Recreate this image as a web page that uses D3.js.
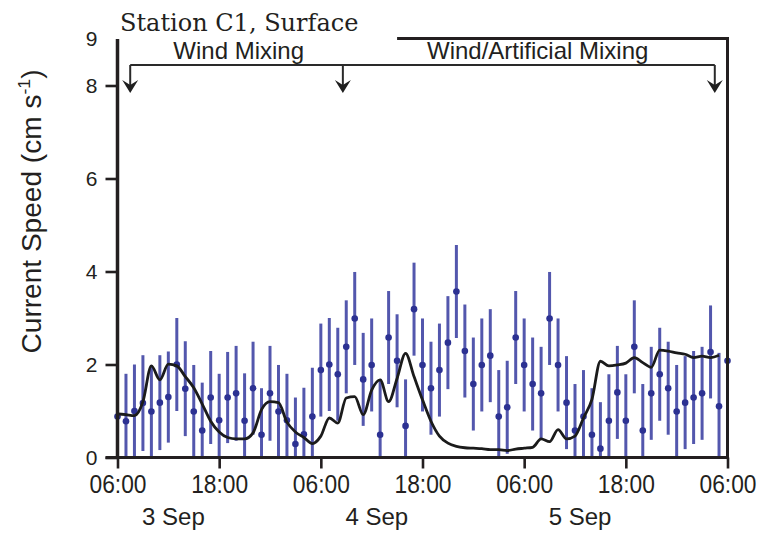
<!DOCTYPE html>
<html>
<head>
<meta charset="utf-8">
<script src="https://cdn.jsdelivr.net/npm/d3@7"></script>
<style>
  body { margin: 0; background: #fff; }
  text { fill: #231f20; }
</style>
</head>
<body>
<svg id="chart" width="765" height="533"></svg>
<script>
/* DATA: hourly current speed at Station C1, surface, 06:00 3 Sep -> 06:00 6 Sep */

// hourly means (cm/s), one per hour
const speedMean = [
  0.88, 0.78, 1.00, 1.17, 0.99, 1.18, 1.30, 2.00, 1.48, 0.99,
  0.58, 1.29, 0.80, 1.29, 1.38, 0.79, 1.49, 0.49, 1.38, 0.99,
  0.80, 0.29, 0.50, 0.88, 1.88, 2.00, 1.79, 2.38, 2.99, 1.68,
  1.99, 0.49, 2.58, 2.08, 0.68, 3.19, 1.99, 1.49, 1.88, 2.47,
  3.57, 2.29, 1.58, 1.99, 2.19, 0.88, 1.08, 2.58, 1.99, 1.58,
  1.38, 2.99, 1.99, 1.18, 0.58, 0.88, 0.49, 0.19, 0.79, 1.40,
  0.79, 2.38, 0.58, 1.38, 1.79, 1.49, 0.99, 1.18, 1.29, 1.38,
  2.27, 1.10, 2.08
];

// +/- spread of each hourly mean
const speedSpread = [
  1.00, 1.02, 1.00, 1.03, 1.00, 1.02, 0.98, 1.00, 1.02, 1.00,
  1.03, 1.00, 1.00, 0.98, 1.02, 1.02, 1.00, 1.00, 1.02, 1.00,
  1.00, 1.00, 1.00, 1.05, 1.00, 1.00, 1.00, 1.00, 1.00, 1.00,
  1.00, 1.20, 1.00, 1.00, 1.00, 1.00, 1.00, 1.00, 1.00, 1.00,
  1.00, 1.00, 1.00, 1.00, 1.00, 1.00, 1.00, 1.00, 1.00, 1.00,
  1.00, 1.00, 1.00, 1.00, 1.00, 1.00, 1.00, 1.00, 1.00, 1.00,
  1.00, 1.00, 1.00, 1.00, 1.00, 1.00, 1.00, 1.00, 1.00, 1.00,
  1.00, 1.15, 1.00
];

// smoothed speed (black line)
const speedSmooth = [
  0.94, 0.92, 0.90, 1.20, 1.97, 1.67, 2.01, 1.97, 1.74, 1.50,
  1.15, 0.78, 0.55, 0.43, 0.40, 0.40, 0.53, 1.03, 1.20, 1.18,
  0.76, 0.55, 0.43, 0.30, 0.46, 0.85, 0.74, 1.28, 1.31, 0.92,
  1.45, 1.67, 1.20, 1.70, 2.24, 1.74, 1.24, 0.78, 0.46, 0.31,
  0.24, 0.21, 0.20, 0.19, 0.17, 0.17, 0.15, 0.18, 0.20, 0.22,
  0.40, 0.34, 0.60, 0.40, 0.46, 0.85, 1.25, 2.07, 1.97, 1.99,
  2.03, 2.15, 2.04, 1.94, 2.31, 2.29, 2.25, 2.22, 2.15, 2.18,
  2.15, 2.20
];

const timeTicks = [0, 12, 24, 36, 48, 60, 72];   // hours after 06:00 3 Sep
const timeTickLabels = ["06:00", "18:00", "06:00", "18:00", "06:00", "18:00", "06:00"];
const dayLabels = ["3 Sep", "4 Sep", "5 Sep"];
const dayLabelHours = [6.6, 30.6, 54.6];
const speedTicks = [0, 2, 4, 6, 8, 9];

// mixing periods annotation (hours)
const phaseLabels = ["Wind Mixing", "Wind/Artificial Mixing"];
const phaseLabelHours = [14.3, 49.6];
const arrowHours = [1.5, 26.6, 70.5];
const artificialStart = 33;

/* LAYOUT */
const svg = d3.select("#chart");
const sans = "'Liberation Sans', Arial, sans-serif";
const ink = "#231f20";

const x = d3.scaleLinear().domain([0, 72]).range([117.5, 727.5]);
const y = d3.scaleLinear().domain([0, 9]).range([457.5, 39]);

/* ERROR BARS */
const bars = svg.append("g").attr("id", "bars");

bars.selectAll("line")
  .data(speedMean)
  .join("line")
    .attr("x1", (d, i) => x(i))
    .attr("x2", (d, i) => x(i))
    .attr("y1", (d, i) => y(Math.max(0, d - speedSpread[i])))
    .attr("y2", (d, i) => y(d + speedSpread[i]))
    .attr("stroke", "#3b40a2")
    .attr("stroke-width", 3)
    .attr("stroke-opacity", 0.88);

bars.selectAll("circle")
  .data(speedMean)
  .join("circle")
    .attr("cx", (d, i) => x(i))
    .attr("cy", d => y(d))
    .attr("r", 3.3)
    .attr("fill", "#2c3192");

/* SMOOTHED LINE */
const line = d3.line()
  .x((d, i) => x(i))
  .y(d => y(d))
  .curve(d3.curveMonotoneX);

svg.append("path")
  .datum(speedSmooth)
  .attr("d", line)
  .attr("fill", "none")
  .attr("stroke", "#1b1b1b")
  .attr("stroke-width", 2.8)
  .attr("stroke-linejoin", "round");

/* AXES */
const yAxis = d3.axisLeft(y).tickValues(speedTicks).tickSize(12).tickPadding(8);
const yGroup = svg.append("g").attr("transform", "translate(" + x(0) + ",0)").call(yAxis);
yGroup.select(".domain").remove();
yGroup.selectAll(".tick line").attr("stroke", ink).attr("stroke-width", 2.6)
  .attr("display", d => d === 9 ? "none" : null);
yGroup.selectAll(".tick text").attr("font-family", sans).attr("font-size", 21).attr("fill", ink);

const xAxis = d3.axisBottom(x).tickValues(timeTicks).tickSize(11).tickPadding(6)
  .tickFormat((d, i) => timeTickLabels[i]);
const xGroup = svg.append("g").attr("transform", "translate(0," + y(0) + ")").call(xAxis);
xGroup.select(".domain").remove();
xGroup.selectAll(".tick line").attr("stroke", ink).attr("stroke-width", 2.6);
xGroup.selectAll(".tick text")
  .attr("font-family", sans).attr("font-size", 26).attr("fill", ink)
  .attr("textLength", 57).attr("lengthAdjust", "spacingAndGlyphs");

// frame lines
const frame = svg.append("g").attr("stroke", ink).attr("fill", "none");
frame.append("line").attr("x1", x(0)).attr("x2", x(0)).attr("y1", y(9)).attr("y2", y(0) + 1.5).attr("stroke-width", 3.5);
frame.append("line").attr("x1", x(0) - 12).attr("x2", x(72) + 1.5).attr("y1", y(0)).attr("y2", y(0)).attr("stroke-width", 3);
frame.append("line").attr("x1", x(72)).attr("x2", x(72)).attr("y1", y(9) - 1.5).attr("y2", y(0)).attr("stroke-width", 3);
frame.append("line").attr("x1", x(artificialStart)).attr("x2", x(72) + 1.5).attr("y1", y(9) - 0.5).attr("y2", y(9) - 0.5).attr("stroke-width", 3);

// day labels
svg.append("g").selectAll("text")
  .data(dayLabels)
  .join("text")
    .attr("x", (d, i) => x(dayLabelHours[i]))
    .attr("y", 525)
    .attr("text-anchor", "middle")
    .attr("font-family", sans)
    .attr("font-size", 24)
    .text(d => d);

/* ANNOTATIONS */
const bracketY = 65;
const ann = svg.append("g");
ann.append("line")
  .attr("x1", x(arrowHours[0])).attr("x2", x(arrowHours[2]))
  .attr("y1", bracketY).attr("y2", bracketY)
  .attr("stroke", "#2a2a2a").attr("stroke-width", 2);

arrowHours.forEach(h => {
  const ax = x(h);
  ann.append("line")
    .attr("x1", ax).attr("x2", ax).attr("y1", bracketY).attr("y2", 88)
    .attr("stroke", "#2a2a2a").attr("stroke-width", 2);
  ann.append("path")
    .attr("d", "M" + (ax - 8) + ",80 L" + ax + ",85 L" + (ax + 8) + ",80 L" + ax + ",93 Z")
    .attr("fill", "#1f1f1f");
});

ann.selectAll("text")
  .data(phaseLabels)
  .join("text")
    .attr("x", (d, i) => x(phaseLabelHours[i]))
    .attr("y", 58.5)
    .attr("text-anchor", "middle")
    .attr("font-family", sans)
    .attr("font-size", 24)
    .text(d => d);

/* TITLES */
svg.append("text")
  .attr("x", 120).attr("y", 31)
  .attr("font-family", "'DejaVu Serif', serif")
  .attr("font-size", 24)
  .text("Station C1, Surface");

const yTitle = svg.append("text")
  .attr("transform", "translate(41,211.5) rotate(-90)")
  .attr("text-anchor", "middle")
  .attr("font-family", sans)
  .attr("font-size", 27)
  .attr("textLength", 284)
  .attr("lengthAdjust", "spacingAndGlyphs");
yTitle.append("tspan").text("Current Speed (cm s");
yTitle.append("tspan").attr("font-size", 17).attr("dy", -11).text("-1");
yTitle.append("tspan").attr("dy", 11).text(")");
</script>
</body>
</html>
